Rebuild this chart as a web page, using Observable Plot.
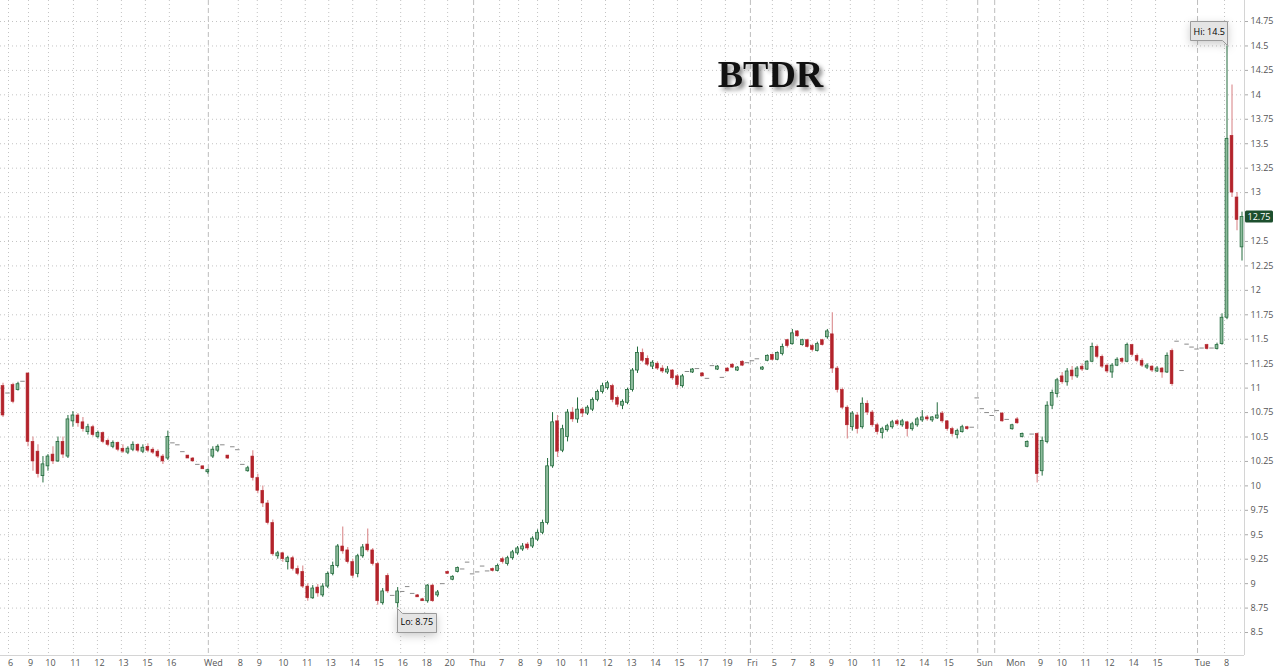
<!DOCTYPE html>
<html>
<head>
<meta charset="utf-8">
<script src="https://cdn.jsdelivr.net/npm/d3@7"></script>
<script src="https://cdn.jsdelivr.net/npm/@observablehq/plot@0.6"></script>
<style>
  body { margin: 0; background: #fff; }
  #chart svg { display: block; }
</style>
</head>
<body>
<div id="chart"></div>
<script>
const title = "BTDR";

// one candle per time slot, oldest first
const opens = [
  11.02,10.95,11.03,10.98,11.07,11.15,10.45,10.35,10.10,10.20,
  10.32,10.25,10.45,10.30,10.66,10.72,10.65,10.55,10.60,10.50,
  10.54,10.46,10.40,10.44,10.38,10.34,10.37,10.42,10.35,10.40,
  10.37,10.35,10.30,10.28,10.44,10.42,10.35,10.31,10.28,10.22,
  10.20,10.14,10.30,10.36,10.42,10.31,10.40,10.37,10.22,10.15,
  10.30,10.08,9.95,9.82,9.62,9.28,9.31,9.22,9.26,9.15,
  9.12,8.97,8.85,8.96,8.88,8.97,9.10,9.18,9.38,9.34,
  9.22,9.10,9.28,9.40,9.34,9.20,8.80,9.08,8.88,8.80,
  8.92,8.97,8.90,8.88,8.84,8.82,8.98,8.88,9.00,9.12,
  9.04,9.12,9.15,9.22,9.10,9.12,9.18,9.13,9.15,9.13,
  9.25,9.20,9.26,9.31,9.35,9.40,9.38,9.45,9.52,9.62,
  10.20,10.66,10.36,10.50,10.75,10.68,10.78,10.74,10.78,10.88,
  10.96,11.00,11.02,10.90,10.82,10.85,10.98,11.18,11.36,11.30,
  11.22,11.25,11.20,11.16,11.18,11.12,11.02,11.17,11.16,11.20,
  11.15,11.10,11.23,11.19,11.11,11.20,11.24,11.18,11.27,11.26,
  11.28,11.30,11.19,11.28,11.34,11.29,11.35,11.49,11.45,11.58,
  11.44,11.49,11.43,11.38,11.49,11.52,11.55,11.20,10.98,10.80,
  10.60,10.72,10.60,10.84,10.75,10.62,10.54,10.57,10.60,10.66,
  10.62,10.65,10.58,10.62,10.67,10.70,10.67,10.69,10.74,10.66,
  10.58,10.52,10.55,10.60,10.60,10.90,10.79,10.75,10.72,10.77,
  10.74,10.68,10.58,10.68,10.50,10.40,10.53,10.53,10.15,10.45,
  10.82,10.94,11.12,11.06,11.18,11.12,11.22,11.19,11.27,11.42,
  11.32,11.23,11.16,11.23,11.30,11.27,11.44,11.33,11.28,11.21,
  11.22,11.17,11.20,11.16,11.38,11.48,11.18,11.45,11.42,11.40,
  11.41,11.44,11.41,11.40,11.45,11.72,13.58,12.95,12.44
];
const highs = [
  11.05,10.95,11.05,11.06,11.07,11.15,10.50,10.42,10.30,10.32,
  10.40,10.50,10.50,10.72,10.76,10.74,10.70,10.63,10.62,10.56,
  10.55,10.48,10.46,10.45,10.42,10.40,10.45,10.43,10.42,10.43,
  10.39,10.37,10.32,10.56,10.44,10.42,10.35,10.31,10.29,10.22,
  10.20,10.17,10.40,10.42,10.42,10.31,10.40,10.37,10.22,10.20,
  10.36,10.12,10.00,9.85,9.65,9.33,9.32,9.28,9.28,9.18,
  9.18,9.00,8.98,8.99,9.00,9.12,9.22,9.40,9.58,9.37,
  9.25,9.30,9.40,9.56,9.36,9.22,8.95,9.10,8.88,8.96,
  8.92,8.97,8.90,8.89,8.85,8.99,8.99,8.93,9.00,9.13,
  9.08,9.17,9.15,9.22,9.10,9.12,9.18,9.13,9.16,9.20,
  9.27,9.28,9.34,9.38,9.41,9.42,9.48,9.55,9.65,10.28,
  10.75,10.72,10.62,10.78,10.80,10.90,10.80,10.82,10.90,10.98,
  11.05,11.07,11.04,10.92,10.88,11.00,11.20,11.42,11.40,11.33,
  11.28,11.27,11.23,11.22,11.19,11.14,11.14,11.17,11.20,11.20,
  11.16,11.10,11.23,11.23,11.11,11.21,11.25,11.22,11.28,11.26,
  11.28,11.30,11.22,11.34,11.35,11.37,11.45,11.50,11.60,11.59,
  11.50,11.50,11.45,11.47,11.50,11.60,11.77,11.22,11.00,10.82,
  10.76,10.75,10.90,10.87,10.77,10.64,10.60,10.63,10.67,10.68,
  10.68,10.66,10.65,10.70,10.77,10.72,10.71,10.85,10.76,10.67,
  10.60,10.58,10.62,10.61,10.60,10.90,10.79,10.75,10.72,10.77,
  10.75,10.68,10.63,10.70,10.54,10.46,10.53,10.54,10.50,10.86,
  10.98,11.10,11.16,11.20,11.22,11.22,11.25,11.28,11.46,11.44,
  11.34,11.25,11.25,11.31,11.31,11.46,11.45,11.35,11.30,11.25,
  11.23,11.22,11.21,11.36,11.40,11.48,11.18,11.45,11.42,11.40,
  11.41,11.45,11.41,11.46,11.76,14.50,14.10,13.00,12.80
];
const lows = [
  10.70,10.95,10.84,10.97,11.07,10.40,10.15,10.08,10.03,10.15,
  10.22,10.24,10.28,10.28,10.60,10.60,10.55,10.52,10.50,10.48,
  10.43,10.40,10.38,10.35,10.33,10.32,10.35,10.34,10.33,10.34,
  10.32,10.28,10.22,10.26,10.44,10.42,10.35,10.28,10.25,10.22,
  10.17,10.12,10.28,10.34,10.42,10.27,10.40,10.37,10.22,10.14,
  10.05,9.92,9.78,9.60,9.28,9.25,9.22,9.14,9.13,9.08,
  8.95,8.82,8.84,8.86,8.86,8.95,9.08,9.16,9.30,9.20,
  9.05,9.06,9.26,9.32,9.18,8.78,8.78,8.90,8.88,8.75,
  8.92,8.97,8.90,8.86,8.82,8.80,8.81,8.86,9.00,9.10,
  9.03,9.11,9.15,9.22,9.10,9.12,9.18,9.13,9.12,9.12,
  9.20,9.18,9.24,9.29,9.33,9.34,9.36,9.43,9.50,9.60,
  10.18,10.29,10.34,10.45,10.65,10.64,10.70,10.72,10.76,10.86,
  10.94,10.98,10.85,10.80,10.78,10.83,10.96,11.15,11.26,11.22,
  11.19,11.18,11.15,11.14,11.08,11.00,11.00,11.17,11.15,11.20,
  11.12,11.10,11.23,11.18,11.11,11.17,11.20,11.17,11.22,11.26,
  11.28,11.30,11.18,11.27,11.28,11.28,11.33,11.41,11.44,11.52,
  11.43,11.41,11.37,11.37,11.43,11.50,11.15,10.95,10.78,10.48,
  10.56,10.53,10.58,10.72,10.60,10.52,10.48,10.55,10.58,10.61,
  10.60,10.50,10.56,10.60,10.65,10.66,10.65,10.68,10.64,10.56,
  10.50,10.48,10.54,10.57,10.60,10.90,10.79,10.75,10.72,10.77,
  10.65,10.68,10.57,10.63,10.49,10.39,10.53,10.03,10.10,10.43,
  10.78,10.90,11.04,11.02,11.08,11.10,11.17,11.18,11.26,11.30,
  11.20,11.15,11.10,11.22,11.25,11.26,11.32,11.26,11.21,11.19,
  11.16,11.16,11.10,11.15,11.02,11.48,11.18,11.45,11.42,11.40,
  11.41,11.39,11.41,11.39,11.44,11.70,12.95,12.61,12.30
];
const closes = [
  10.72,10.95,10.86,11.04,11.07,10.45,10.25,10.12,10.22,10.30,
  10.25,10.45,10.32,10.68,10.72,10.64,10.58,10.60,10.52,10.54,
  10.45,10.42,10.44,10.37,10.35,10.38,10.42,10.36,10.39,10.36,
  10.34,10.30,10.25,10.50,10.44,10.42,10.35,10.28,10.25,10.22,
  10.17,10.16,10.37,10.40,10.42,10.28,10.40,10.37,10.22,10.18,
  10.08,9.95,9.82,9.62,9.30,9.31,9.25,9.26,9.15,9.10,
  8.97,8.85,8.95,8.90,8.97,9.10,9.18,9.38,9.33,9.22,
  9.08,9.28,9.37,9.34,9.20,8.82,8.92,8.92,8.88,8.92,
  8.92,8.97,8.90,8.86,8.82,8.98,8.82,8.91,9.00,9.10,
  9.07,9.16,9.15,9.22,9.10,9.12,9.18,9.13,9.13,9.18,
  9.22,9.26,9.32,9.36,9.38,9.36,9.46,9.52,9.62,10.20,
  10.65,10.35,10.58,10.75,10.68,10.78,10.74,10.80,10.88,10.96,
  11.02,11.05,10.88,10.83,10.86,10.98,11.18,11.36,11.28,11.24,
  11.26,11.20,11.17,11.19,11.10,11.03,11.12,11.17,11.19,11.20,
  11.12,11.10,11.23,11.22,11.11,11.17,11.21,11.21,11.23,11.26,
  11.28,11.30,11.21,11.33,11.29,11.36,11.42,11.43,11.56,11.53,
  11.49,11.42,11.39,11.45,11.44,11.58,11.20,10.98,10.80,10.62,
  10.74,10.58,10.84,10.75,10.62,10.55,10.58,10.61,10.65,10.63,
  10.66,10.58,10.63,10.68,10.70,10.68,10.70,10.72,10.66,10.58,
  10.53,10.56,10.60,10.58,10.60,10.90,10.79,10.75,10.72,10.77,
  10.66,10.68,10.62,10.64,10.53,10.45,10.53,10.12,10.46,10.82,
  10.95,11.08,11.06,11.17,11.12,11.20,11.19,11.27,11.42,11.32,
  11.22,11.17,11.23,11.29,11.27,11.44,11.34,11.28,11.23,11.23,
  11.18,11.20,11.16,11.33,11.04,11.48,11.18,11.45,11.42,11.40,
  11.41,11.40,11.41,11.44,11.72,13.55,13.00,12.72,12.75
];

// time axis: slot positions of the labels, and the session separators
const tickSlots = [1.5,5.5,9.5,14.5,19.3,24.1,28.9,33.7,42.1,47.5,51.3,56.1,60.9,65.6,70.4,75.2,80.0,84.8,89.4,
  95.0,99.8,103.6,107.4,111.6,116.2,121.0,125.8,130.6,135.4,140.2,145.0,150.0,154.4,158.2,162.0,165.8,170.0,
  174.8,179.6,184.4,189.3,196.5,202.7,207.7,211.9,216.7,221.5,226.3,231.1,240.1,244.9];
const tickLabels = ["6","9","10","11","12","13","15","16","Wed","8","9","10","11","13","14","15","16","18","20",
  "Thu","7","8","9","10","11","12","13","14","15","17","19","Fri","5","7","8","9","10",
  "11","12","14","15","Sun","Mon","9","10","11","12","14","15","Tue","8"];
const daySlots = [41.1, 94.2, 149.6, 195.1, 198.5, 239.1];
const dayNames = ["Wed","Thu","Fri","Sun","Mon","Tue"];
const yTicks = [8.5,8.75,9,9.25,9.5,9.75,10,10.25,10.5,10.75,11,11.25,11.5,11.75,12,12.25,12.5,12.75,13,13.25,13.5,13.75,14,14.25,14.5,14.75];

const xDomain = [-0.5, opens.length - 0.5];
const yDomain = [8.265, 14.965];

const candles = opens.map((o, i) => ({i, o, h: highs[i], l: lows[i], c: closes[i]}));
const flat = candles.filter(d => d.h === d.l);
const up = candles.filter(d => d.h !== d.l && d.c >= d.o);
const down = candles.filter(d => d.h !== d.l && d.c < d.o);

const hi = candles.reduce((a, b) => b.h > a.h ? b : a);
const lo = candles.reduce((a, b) => b.l < a.l ? b : a);
const last = candles[candles.length - 1];

const labelOf = new Map(tickSlots.map((s, i) => [s, tickLabels[i]]));
const hourGrid = tickSlots.filter((s, i) => !dayNames.includes(tickLabels[i])).map(s => s - 0.4);
// the last-price tag sits on top of its own tick label
const yLabelTicks = yTicks.filter(t => t !== last.c);

const upLine = "#236b3d", upFill = "#8dbb9c";
const downFill = "#b3232b", downWick = "#dd9496";
const halfBody = 0.28;

const chart = Plot.plot({
  width: 1280,
  height: 670,
  marginTop: 0,
  marginRight: 36,
  marginBottom: 15,
  marginLeft: 0,
  style: {fontFamily: "'Open Sans', sans-serif", background: "#fff"},
  x: {domain: xDomain, label: null},
  y: {domain: yDomain, label: null},
  marks: [
    Plot.ruleY(yTicks, {stroke: "#c4c4c4", strokeDasharray: "1,3"}),
    Plot.ruleX(hourGrid, {stroke: "#c4c4c4", strokeDasharray: "1,3"}),
    Plot.ruleX(daySlots, {stroke: "#bdbdbd", strokeDasharray: "5,3"}),
    Plot.ruleX([xDomain[1]], {stroke: "#d4d4d4"}),
    Plot.ruleY([yDomain[0]], {stroke: "#d4d4d4"}),
    Plot.axisX(tickSlots, {tickSize: 0, tickPadding: 4, fontSize: 9, fill: "#555", label: null,
                           tickFormat: d => labelOf.get(d)}),
    Plot.axisY(yLabelTicks, {anchor: "right", tickSize: 3, tickPadding: 3, fontSize: 9, fill: "#555",
                             stroke: "#aaa", label: null, tickFormat: d => `${d}`}),

    Plot.text([title], {frameAnchor: "top-left", dx: 770, dy: 74, text: d => d, textAnchor: "middle",
                        lineAnchor: "middle", fontFamily: "'Liberation Serif', serif", fontSize: 38,
                        fontWeight: "bold", fill: "#111", imageFilter: "drop-shadow(3px 3px 2px #8a8a8a)"}),

    // overnight flat prints
    Plot.ruleY(flat, {y: "c", x1: d => d.i - 0.45, x2: d => d.i + 0.45, stroke: "#8a8a8a", strokeWidth: 1}),
    // wicks
    Plot.ruleX(down, {x: "i", y1: "l", y2: "h", stroke: downWick, strokeWidth: 1.2}),
    Plot.ruleX(up, {x: "i", y1: "l", y2: "h", stroke: upLine, strokeWidth: 1}),
    // bodies
    Plot.rect(down, {x1: d => d.i - halfBody, x2: d => d.i + halfBody, y1: "o", y2: "c",
                     fill: downFill, stroke: downFill, strokeWidth: 0.6}),
    Plot.rect(up, {x1: d => d.i - halfBody, x2: d => d.i + halfBody, y1: "o", y2: "c",
                   fill: upFill, stroke: upLine, strokeWidth: 0.8}),

    Plot.tip([hi], {x: "i", y: "h", title: d => `Hi: ${d.h}`, anchor: "bottom-right", pointerSize: 5,
                    fontSize: 9, textPadding: 3, fill: "#e4e4e4", stroke: "#9a9a9a"}),
    Plot.tip([lo], {x: "i", y: "l", title: d => `Lo: ${d.l}`, anchor: "top-left", pointerSize: 5,
                    fontSize: 9, textPadding: 3, fill: "#e4e4e4", stroke: "#9a9a9a"})
  ]
});

// last price tag on the right axis
const svg = d3.select(chart);
const yPix = chart.scale("y").apply(last.c);
const xPix = chart.scale("x").apply(xDomain[1]);
const tag = svg.append("g");
tag.append("rect").attr("x", xPix + 1).attr("y", yPix - 6).attr("width", 28).attr("height", 12)
  .attr("rx", 1.5).attr("fill", "#1d4f2e");
tag.append("text").attr("x", xPix + 15).attr("y", yPix + 3.2).attr("text-anchor", "middle")
  .attr("fill", "#fff").attr("font-size", 9).text(last.c.toFixed(2));

document.getElementById("chart").append(chart);
</script>
</body>
</html>
